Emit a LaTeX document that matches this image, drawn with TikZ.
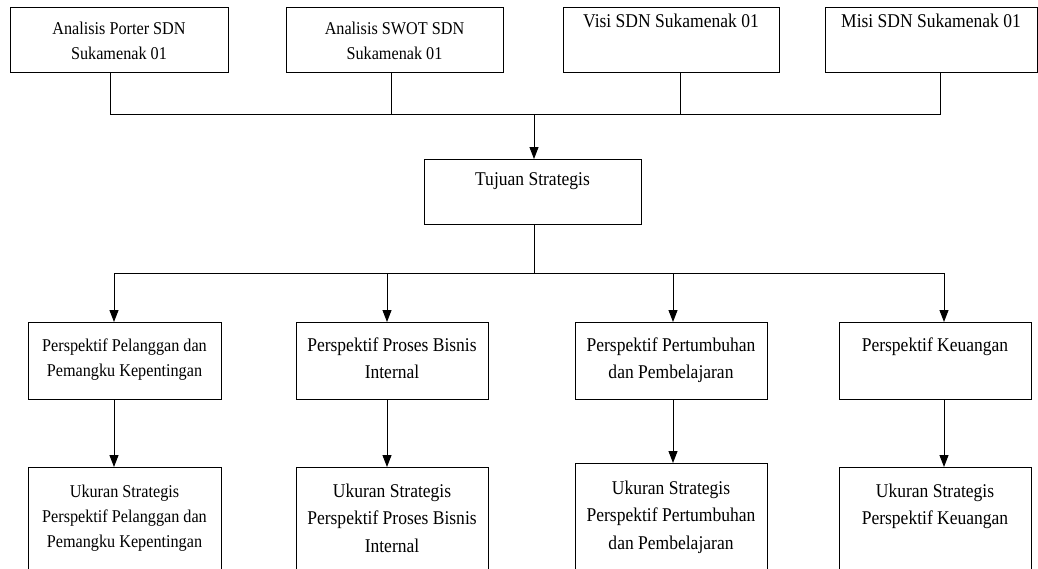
\documentclass[tikz,border=0pt]{standalone}
\usepackage{fontspec}
\setmainfont{Liberation Serif}[FakeStretch=0.9]
\usetikzlibrary{arrows.meta}
\newcommand{\smtext}{\fontsize{13.5}{18.75}\selectfont}
\newcommand{\bgtext}{\fontsize{14.6}{20.5}\selectfont}
\begin{document}
\begin{tikzpicture}[x=0.75pt, y=-0.75pt,
  box/.style n args={3}{draw=black, line width=0.75pt, anchor=north, align=flush center,
    inner sep=0pt, text width=#1, text height=#2, text depth=#3},
  wire/.style={line width=0.75pt, black},
  arrow/.style={wire, -{Triangle[length=9pt,width=6.75pt]}}]
\useasboundingbox (0,0) rectangle (1038,568);
\node[box={163.5pt}{20.25pt}{28.5pt}, font=\smtext] (porter) at (119,7) {Analisis Porter SDN\\Sukamenak 01};
\node[box={162.75pt}{20.25pt}{28.5pt}, font=\smtext] (swot) at (394.5,7) {Analisis SWOT SDN\\Sukamenak 01};
\node[box={162pt}{15pt}{33.75pt}, font=\bgtext] (visi) at (671,7) {Visi SDN Sukamenak 01};
\node[box={159pt}{15pt}{33.75pt}, font=\bgtext] (misi) at (931,7) {Misi SDN Sukamenak 01};
\node[box={162.75pt}{19.5pt}{29.25pt}, font=\bgtext] (tujuan) at (532.5,159) {Tujuan Strategis};
\node[box={144.75pt}{21.75pt}{36pt}, font=\smtext] (pelanggan) at (124.5,322) {Perspektif Pelanggan dan\\Pemangku Kepentingan};
\node[box={144pt}{21.75pt}{36pt}, font=\bgtext] (proses) at (392,322) {Perspektif Proses Bisnis\\Internal};
\node[box={144pt}{21.75pt}{36pt}, font=\bgtext] (tumbuh) at (671,322) {Perspektif Pertumbuhan\\dan Pembelajaran};
\node[box={144pt}{21.75pt}{36pt}, font=\bgtext] (uang) at (935,322) {Perspektif Keuangan};
\node[box={144.75pt}{22.5pt}{78.75pt}, font=\smtext] (ukpelanggan) at (124.5,467) {Ukuran Strategis\\Perspektif Pelanggan dan\\Pemangku Kepentingan};
\node[box={144pt}{22.5pt}{78.75pt}, font=\bgtext] (ukproses) at (392,467) {Ukuran Strategis\\Perspektif Proses Bisnis\\Internal};
\node[box={144pt}{23.25pt}{78.75pt}, font=\bgtext] (uktumbuh) at (671,463) {Ukuran Strategis\\Perspektif Pertumbuhan\\dan Pembelajaran};
\node[box={144pt}{22.5pt}{78.75pt}, font=\bgtext] (ukuang) at (935,467) {Ukuran Strategis\\Perspektif Keuangan};
\coordinate (bus) at (534,114);
\coordinate (split) at (534,273);
\draw[wire] ([xshift=-6.75pt]porter.south) |- (bus);
\draw[wire] ([xshift=-1.9pt]swot.south) |- (bus);
\draw[wire] ([xshift=6.75pt]visi.south) |- (bus);
\draw[wire] ([xshift=6.75pt]misi.south) |- (bus);
\draw[arrow] (bus) -- (bus |- tujuan.north);
\draw[wire] (tujuan.south -| split) -- (split);
\draw[arrow] (split) -| ([xshift=-7.875pt]pelanggan.north);
\draw[arrow] (split) -| ([xshift=-3.75pt]proses.north);
\draw[arrow] (split) -| ([xshift=1.5pt]tumbuh.north);
\draw[arrow] (split) -| ([xshift=6.75pt]uang.north);
\draw[arrow] ([xshift=-7.875pt]pelanggan.south) -- ([xshift=-7.875pt]ukpelanggan.north);
\draw[arrow] ([xshift=-3.75pt]proses.south) -- ([xshift=-3.75pt]ukproses.north);
\draw[arrow] ([xshift=1.5pt]tumbuh.south) -- ([xshift=1.5pt]uktumbuh.north);
\draw[arrow] ([xshift=6.75pt]uang.south) -- ([xshift=6.75pt]ukuang.north);
\end{tikzpicture}
\end{document}
